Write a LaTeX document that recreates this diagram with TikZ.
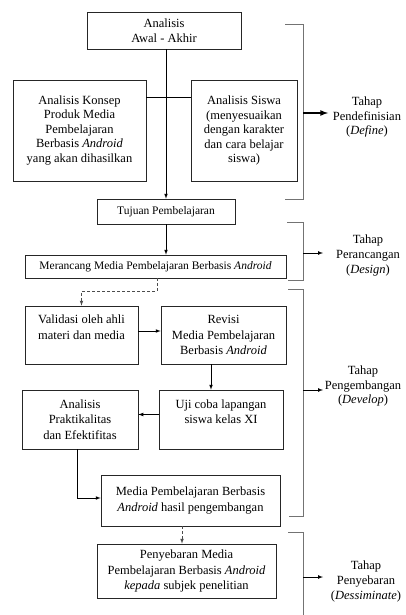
\documentclass[tikz,border=0pt]{standalone}
\usepackage{fontspec}
\setmainfont{Liberation Serif}
\definecolor{brk}{gray}{0.45}
\begin{document}
\begin{tikzpicture}[>=latex, x=1pt, y=-1pt,
    kotak/.style={draw=black!85, line width=.7pt, inner sep=0pt, align=center, font=\fontsize{12.5}{15.5}\selectfont},
    kecil/.style={font=\fontsize{11.5}{14}\selectfont},
    rapat/.style={font=\fontsize{12.5}{14.5}\selectfont},
    panah/.style={->, line width=.7pt},
    putus/.style={->, draw=black!70, line width=.7pt, densely dashed},
    garis/.style={draw=brk, line width=.9pt},
    tahap/.style={align=center, inner sep=1pt, font=\fontsize{12.5}{14.8}\selectfont}]
\useasboundingbox (0,0) rectangle (406,615);

% tahap define
\node[kotak, minimum width=154, minimum height=37] (awal) at (164,30.5) {Analisis\\Awal - Akhir};
\node[kotak, rapat, minimum width=133, minimum height=101] (konsep) at (79.5,130.5) {Analisis Konsep\\Produk Media\\Pembelajaran\\Berbasis \textit{Android}\\yang akan dihasilkan};
\node[kotak, rapat, minimum width=106, minimum height=101] (siswa) at (244,130.5) {Analisis Siswa\\(menyesuaikan\\dengan karakter\\dan cara belajar\\siswa)};
\node[kotak, kecil, minimum width=138, minimum height=25] (tujuan) at (166,211.5) {Tujuan Pembelajaran};
\draw[panah] (awal.south -| tujuan.north) -- (tujuan.north);
\draw[line width=.7pt] ([yshift=-18pt]konsep.north east) -- ([yshift=-18pt]siswa.north west);

% tahap design
\node[kotak, kecil, minimum width=261, minimum height=23] (rancang) at (155.5,266.5) {Merancang Media Pembelajaran Berbasis \textit{Android}};
\draw[panah] (tujuan.south) -- (tujuan.south |- rancang.north);

% tahap develop
\node[kotak, minimum width=113, minimum height=58] (validasi) at (81.5,335) {Validasi oleh ahli\\materi dan media\\\phantom{x}};
\node[kotak, minimum width=125, minimum height=58] (revisi) at (223.5,335) {Revisi\\Media Pembelajaran\\Berbasis \textit{Android}};
\node[kotak, minimum width=116, minimum height=59] (praktis) at (80,419.5) {Analisis\\Praktikalitas\\dan Efektifitas};
\node[kotak, minimum width=124, minimum height=59] (uji) at (221,419.5) {Uji coba lapangan\\siswa kelas XI\\\phantom{x}};
\node[kotak, minimum width=179, minimum height=51] (media) at (190.5,500.5) {Media Pembelajaran Berbasis\\\textit{Android} hasil pengembangan};
\draw[putus] ([xshift=1.5pt]rancang.south) -- ++(0,13) -| (validasi.north);
\draw[panah] ([yshift=4pt]validasi.east) -- ([yshift=4pt]revisi.west);
\draw[panah] ([xshift=-12.5pt]revisi.south) -- ([xshift=-12.5pt]revisi.south |- uji.north);
\draw[panah] ([yshift=5pt]uji.west) -- ([yshift=5pt]praktis.east);
\draw[panah] ([xshift=-3pt]praktis.south) |- ([yshift=2.5pt]media.west);

% tahap disseminate
\node[kotak, minimum width=179, minimum height=54] (sebar) at (186.5,571) {Penyebaran Media\\Pembelajaran Berbasis \textit{Android}\\\textit{kepada} subjek penelitian};
\draw[putus] ([xshift=-8.5pt]media.south) -- ([xshift=-8.5pt]media.south |- sebar.north);

% kurung dan label tahap
\draw[garis] (285,24) -| (303,199) -- (285,199);
\draw[garis] (287,222) -| (303,280) -- (288,280);
\draw[garis] (288,289) -| (303,516) -- (289,516);
\draw[garis] (288,532) -| (303,615);
\coordinate (k1) at (303,113);
\coordinate (k2) at (303,253);
\coordinate (k3) at (303,390);
\coordinate (k4) at (303,577);
\draw[->, line width=1.6pt] (k1) -- ++(25,0);
\draw[panah] (k2) -- ++(20,0);
\draw[panah] (k3) -- ++(20,0);
\draw[panah] (k4) -- ++(20,0);
\node[tahap] (define) at (367,117) {Tahap\\Pendefinisian\\(\textit{Define})};
\node[tahap] (design) at (368,255.5) {Tahap\\Perancangan\\(\textit{Design})};
\node[tahap] (develop) at (363,386) {Tahap\\Pengembangan\\(\textit{Develop})};
\node[tahap] (dissem) at (366,581.5) {Tahap\\Penyebaran\\(\textit{Dessiminate})};
\end{tikzpicture}
\end{document}
